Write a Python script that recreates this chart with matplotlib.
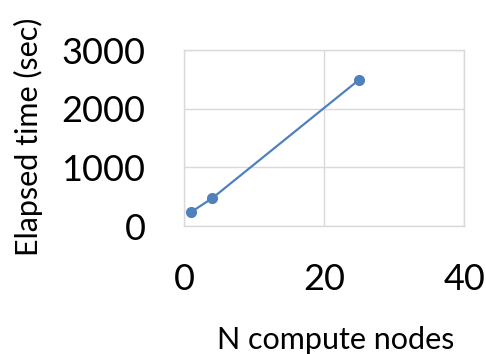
import matplotlib
matplotlib.use("Agg")
import matplotlib.pyplot as plt

# data
nodes = [1, 4, 25]
elapsed = [240, 475, 2500]
x_ticks = [0, 20, 40]
y_ticks = [0, 1000, 2000, 3000]


def main():
    plt.rcParams['font.family'] = ['Lato', 'DejaVu Sans']
    W, H = 486, 354
    fig = plt.figure(figsize=(W / 100, H / 100), dpi=100)
    ax = fig.add_axes([184.3 / W, (H - 226) / H, 280 / W, 175.7 / H])

    ax.plot(nodes, elapsed, color="#4F81BD", linewidth=1.6,
            marker="o", markersize=7, clip_on=False, zorder=3)

    ax.set_xlim(0, 40)
    ax.set_ylim(0, 3000)
    ax.set_xticks(x_ticks)
    ax.set_yticks(y_ticks)
    ax.tick_params(axis="both", length=0, labelsize=26, colors="black")
    ax.tick_params(axis="x", pad=27)
    ax.tick_params(axis="y", pad=28)
    ax.grid(True, color="#d9d9d9", linewidth=1)
    ax.set_axisbelow(True)
    for s in ax.spines.values():
        s.set_color("#d9d9d9")
        s.set_linewidth(1)

    ax.set_xlabel("N compute nodes", fontsize=22)
    ax.set_ylabel("Elapsed time (sec)", fontsize=22)
    ax.xaxis.set_label_coords(0.542, -0.57)
    ax.yaxis.set_label_coords(-0.505, 0.507)

    fig.savefig("out.png", dpi=100)


if __name__ == "__main__":
    main()
